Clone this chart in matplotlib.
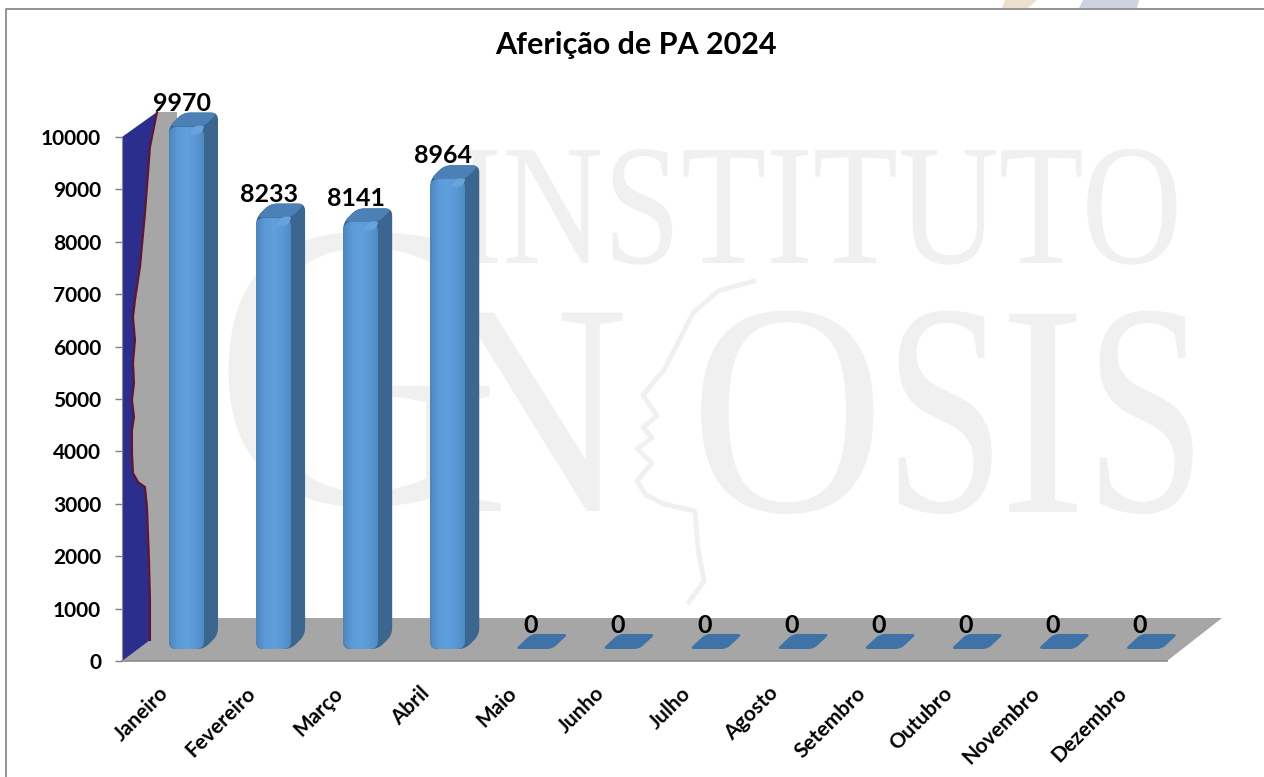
import matplotlib
matplotlib.use('Agg')
import matplotlib.pyplot as plt
import numpy as np
from matplotlib.patches import Polygon, PathPatch
from matplotlib.path import Path
from matplotlib.patheffects import AbstractPathEffect
from matplotlib.transforms import Affine2D
from matplotlib.colors import LinearSegmentedColormap

plt.rcParams['font.family'] = ['Lato', 'DejaVu Sans']

# dados
meses = ['Janeiro', 'Fevereiro', 'Março', 'Abril', 'Maio', 'Junho', 'Julho', 'Agosto',
         'Setembro', 'Outubro', 'Novembro', 'Dezembro']
valores = [9970, 8233, 8141, 8964, 0, 0, 0, 0, 0, 0, 0, 0]
ticks_y = [0, 1000, 2000, 3000, 4000, 5000, 6000, 7000, 8000, 9000, 10000]

# parede do fundo, contorno em pixels da imagem
curva_parede = [(157, 112), (150, 147), (145, 213), (140, 267), (135, 300), (133, 317), (135, 340), (133, 363),
                (134, 383), (132, 400), (134, 417), (132, 430), (132, 453), (133, 473), (138, 482), (145, 487),
                (147, 507), (149, 560), (150, 600), (150, 640)]
perfil = [(754, 281), (718, 291), (693, 313), (679, 341), (664, 370), (643, 395), (657, 416), (643, 427), (652, 438),
          (637, 449), (652, 463), (637, 481), (646, 495), (664, 504), (695, 511), (698, 549), (704, 581), (689, 602)]

W, H = 1264, 777
X0, Y0, X1, Y1 = 122, 661, 1167, 137
px_x = 12 / (X1 - X0)
px_y = 10000 / (Y0 - Y1)


class Aperta(AbstractPathEffect):
    # estreita o texto na horizontal, a partir da ancora
    def __init__(self, sx):
        super().__init__()
        self.sx = sx

    def draw_path(self, renderer, gc, tpath, affine, rgbFace=None):
        renderer.draw_path(gc, tpath, Affine2D().scale(self.sx, 1) + affine, rgbFace)


def caminho_redondo(pts, rx, ry):
    # poligono com cantos arredondados, rx e ry nas unidades dos eixos
    pts = np.array(pts, dtype=float)
    n = len(pts)
    verts, codes = [], []
    escala = np.array([1 / rx, 1 / ry])
    for i in range(n):
        p = pts[i]
        ant = pts[i - 1] - p
        prox = pts[(i + 1) % n] - p
        a = p + ant / max(np.linalg.norm(ant * escala), 2)
        b = p + prox / max(np.linalg.norm(prox * escala), 2)
        verts += [a, p, b]
        codes += [Path.LINETO if i else Path.MOVETO, Path.CURVE3, Path.CURVE3]
    verts.append(verts[0])
    codes.append(Path.CLOSEPOLY)
    return Path(verts, codes)


fig = plt.figure(figsize=(W / 100, H / 100), dpi=100)
ax = fig.add_axes([X0 / W, 1 - Y0 / H, (X1 - X0) / W, (Y0 - Y1) / H])
ax.set_xlim(0, 12)
ax.set_ylim(0, 10000)
ax.patch.set_alpha(0)
pixel = Affine2D().scale(1, -1).translate(0, H)

# moldura e faixas do topo
fig.add_artist(plt.Line2D([6, 6, W], [H, 9, 9], color='#808080', lw=1.2, transform=pixel))
fig.add_artist(Polygon([(1005, 0), (1037, 0), (1028, 8), (1002, 8)], color='#ecdfcc', lw=0, transform=pixel))
fig.add_artist(Polygon([(1083, 0), (1139, 0), (1137, 8), (1079, 8)], color='#cdd3e0', lw=0, transform=pixel))

# marca d'agua
cinza = '#f0f0f0'
for letra, x, base, tam, sx in [('INS', 456, 263, 124, 0.81), ('TIT', 681, 263, 124, 0.81), ('UTO', 898, 263, 124, 0.81),
                                ('G', 212, 503, 295, 0.98), ('N', 432, 511, 218, 0.9),
                                ('O', 690, 511, 218, 0.89), ('S', 884, 511, 218, 0.72), ('I', 1000, 512, 218, 0.85),
                                ('S', 1085, 511, 218, 0.72)]:
    fig.text(x / W, 1 - base / H, letra, family='Liberation Serif', fontsize=tam, color=cinza, va='baseline', ha='left',
             path_effects=[Aperta(sx)], zorder=-2)
fig.add_artist(plt.Line2D(*zip(*perfil), color=cinza, lw=3.5, transform=pixel, zorder=-2))

# piso e parede
ax.add_patch(Polygon([(122, 661), (1167, 661), (1222, 618), (167, 618)], color='#a6a6a6', lw=0, transform=pixel,
                     clip_on=False, zorder=1))
ax.plot([X0, X1], [Y0, Y0], color='#8c8c8c', lw=1.2, transform=pixel, clip_on=False, zorder=1.1)
ax.add_patch(Polygon(curva_parede + [(170, 625), (177, 618), (177, 112)], color='#a6a6a6', lw=0, transform=pixel,
                     clip_on=False, zorder=1.2))
ax.add_patch(Polygon(curva_parede + [(122, 661), (122, 137)], color='#2b2e8c', lw=0, transform=pixel,
                     clip_on=False, zorder=1.3))
ax.plot(*zip(*curva_parede), color='#6a1228', lw=1.5, transform=pixel, clip_on=False, zorder=1.4)

# barras
mapa = LinearSegmentedColormap.from_list('frente', ['#4d86bf', '#5b9ad6', '#5f9fdc', '#5a98d4', '#4f8ac3'])
gradiente = np.linspace(0, 1, 48).reshape(1, -1)
largura = 35 * px_x
prof_x = 14 * px_x
prof_y = 14 * px_y
base = 12 * px_y
rx, ry = 7 * px_x, 7 * px_y
for i, v in enumerate(valores):
    e = i + 47 * px_x
    d = e + largura
    topo = base + v
    if v == 0:
        ax.add_patch(PathPatch(caminho_redondo([(e - 2 * px_x, base), (d, base), (d + prof_x + 2 * px_x, base + prof_y + px_y),
                                                (e + prof_x, base + prof_y + px_y)], rx * 0.7, ry * 0.7),
                               fc='#3f73a8', lw=0, clip_on=False, zorder=3))
    else:
        lado = caminho_redondo([(e, base), (d, base), (d + prof_x, base + prof_y), (d + prof_x, topo + prof_y),
                                (e + prof_x, topo + prof_y), (e, topo)], rx, ry)
        ax.add_patch(PathPatch(lado, fc='#3a668f', lw=0, clip_on=False, zorder=3))
        tampa = caminho_redondo([(e, topo), (d, topo), (d + prof_x, topo + prof_y), (e + prof_x, topo + prof_y)], rx, ry)
        ax.add_patch(PathPatch(tampa, fc='#4b81b6', lw=0, clip_on=False, zorder=3.1))
        frente = PathPatch(caminho_redondo([(e, base), (d, base), (d, topo), (e, topo)], rx * 1.2, ry * 1.2),
                           fc='none', lw=0, clip_on=False, zorder=3.2)
        ax.add_patch(frente)
        malha = ax.pcolormesh(np.linspace(e, d, 49), [base, topo], gradiente, cmap=mapa, zorder=3.2,
                              shading='flat', antialiased=False)
        malha.set_clip_path(frente)
        malha.set_clip_box(None)
        # brilho no canto da tampa
        ax.add_patch(PathPatch(caminho_redondo([(d - 15 * px_x, topo - 8 * px_y), (d - 4 * px_x, topo - 8 * px_y),
                                                (d + 1 * px_x, topo + 1 * px_y), (d - 9 * px_x, topo + 1 * px_y)],
                                               rx * 0.5, ry * 0.5),
                               fc='#69a3dc', lw=0, clip_on=False, zorder=3.3))
    ax.text(e + 13 * px_x, topo + 16 * px_y, str(v), ha='center', va='baseline', fontsize=18, fontweight='bold',
            color='black', zorder=5, clip_on=False)
ax.set_xlim(0, 12)
ax.set_ylim(0, 10000)

# eixos
for lado_ax in ['top', 'right', 'bottom']:
    ax.spines[lado_ax].set_visible(False)
ax.spines['left'].set_color('#8c8c8c')
ax.spines['left'].set_zorder(2)
ax.set_yticks(ticks_y)
ax.set_yticklabels([str(t) for t in ticks_y], fontsize=15, fontweight='bold')
ax.tick_params(axis='y', length=5, width=1, color='#7f7f7f', pad=10)
ax.set_xticks(np.arange(12) + 0.5)
ax.set_xticklabels(meses, rotation=45, ha='right', va='center', rotation_mode='anchor', fontsize=15, fontweight='bold')
ax.tick_params(axis='x', length=0, pad=21)

fig.text(636 / W, 1 - 45 / H, 'Aferição de PA 2024', ha='center', va='center', fontsize=22, fontweight='bold')

fig.savefig('out.png', dpi=100)
